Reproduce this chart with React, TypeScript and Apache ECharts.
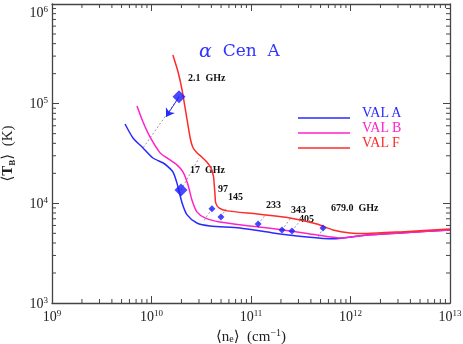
import React, { useEffect, useRef } from "react";
import * as echarts from "echarts";

// Model curves: [n_e (cm^-1), T_B (K)]
const valA: [number, number][] = [
  [5.42e9, 62500], [6.52e9, 45300], [8.22e9, 35970], [1.035e10, 28500], [1.31e10, 25400],
  [1.47e10, 23200], [1.64e10, 20650], [1.8e10, 16030], [2.03e10, 10090], [2.28e10, 7660],
  [2.86e10, 6350], [3.87e10, 5930], [7.74e10, 5660], [1.66e11, 5050], [3.66e11, 4600],
  [6.67e11, 4400], [1.47e12, 4820], [3.16e12, 5050], [1e13, 5410],
];
const valB: [number, number][] = [
  [7.15e9, 94800], [8.22e9, 65500], [9.66e9, 46400], [1.22e10, 32100], [1.43e10, 28600],
  [1.8e10, 24300], [2.07e10, 20650], [2.33e10, 15300], [2.55e10, 10800], [2.86e10, 8200],
  [3.45e10, 7140], [4.87e10, 6500], [9.77e10, 5930], [2.1e11, 5410], [4.6e11, 4820],
  [7.83e11, 4500], [1.47e12, 4820], [3.16e12, 5050], [1e13, 5410],
];
const valF: [number, number][] = [
  [1.64e10, 308000], [1.85e10, 208000], [2.03e10, 137000], [2.28e10, 68600], [2.45e10, 45000],
  [2.6e10, 36500], [2.86e10, 32100], [3.2e10, 29200], [3.6e10, 26000], [3.96e10, 22600],
  [4.2e10, 18500], [4.3e10, 14000], [4.35e10, 12100], [4.42e10, 10100], [4.76e10, 9000],
  [5.74e10, 8400], [1.15e11, 7830], [2.47e11, 7140], [4.6e11, 6210], [6.67e11, 5410],
  [9.9e11, 5050], [1.47e12, 4990], [3.16e12, 5170], [1e13, 5530],
];

// Observations
const bigObs: [number, number][] = [[1.89e10, 1.17e5], [1.98e10, 1.36e4]];
const smallObs: [number, number][] = [
  [4.05e10, 8800], [4.99e10, 7310], [1.18e11, 6210], [2.05e11, 5400], [2.58e11, 5290], [5.29e11, 5670],
];
// Dotted connectors from observation to model curve
const connectorEnds: [number, number][] = [
  [8.22e9, 35970], [3.0e10, 28500], [3.3e10, 6500], [5.61e10, 8790], [1.42e11, 7830],
  [2.52e11, 7140], [3.18e11, 6820], [4.71e11, 4500],
];
const arrowEnd: [number, number] = [1.4e10, 73600];

const obsLabels = ["2.1  GHz", "17  GHz", "97", "145", "233", "343", "405", "679.0  GHz"];

const xDecades = [1e9, 1e10, 1e11, 1e12];
const yDecades = [1e3, 1e4, 1e5];
const minorMult = [2, 3, 4, 5, 6, 7, 8, 9];

const BLUE = "#2a2aff";
const MAGENTA = "#ff22cc";
const RED = "#ff2a2a";
const AXIS = "#444";
const SERIF = "'Liberation Serif', 'DejaVu Serif', serif";

export default function App() {
  const ref = useRef<HTMLDivElement>(null);
  useEffect(() => {
    if (!ref.current) return;
    const chart = echarts.init(ref.current, undefined, { renderer: "svg" });
    const allObs = [...bigObs, ...smallObs];
    const connectors = allObs.map((o, i) => ({ coords: [o, connectorEnds[i]] }));
    const minorX: number[] = [];
    xDecades.forEach((d) => minorMult.forEach((m) => minorX.push(m * d)));
    const minorY: number[] = [];
    yDecades.forEach((d) => minorMult.forEach((m) => minorY.push(m * d)));

    const supRich = {
      b: { fontSize: 14, fontFamily: SERIF, color: "#222", lineHeight: 16 },
      s: { fontSize: 9, fontFamily: SERIF, color: "#222", verticalAlign: "top", lineHeight: 16, padding: [0, 0, 6, 0] },
    };
    const fmt = (v: number) => `{b|10}{s|${Math.round(Math.log10(v))}}`;
    const tickStyle = { lineStyle: { color: AXIS, width: 1 } };

    const labelPos: [number, number][] = [
      [188, 77], [190, 169], [218, 188], [228, 196], [266, 204], [291, 209], [299, 218], [331, 207],
    ];

    chart.setOption({
      animation: false,
      grid: { left: 52, top: 4, right: 13, bottom: 41, containLabel: false, outerBoundsMode: "none" },
      xAxis: [
        {
          type: "log", logBase: 10, min: 1e9, max: 1e13, position: "bottom",
          axisLine: { lineStyle: { color: AXIS, width: 1.3 } },
          axisTick: { inside: true, length: 7, ...tickStyle },
          splitLine: { show: false },
          axisLabel: { formatter: fmt, rich: supRich, margin: 5 },
          name: "{t|⟨n}{sub|e}{t|⟩  (cm}{sup|−1}{t|)}",
          nameLocation: "middle", nameGap: 20,
          nameTextStyle: {
            rich: {
              t: { fontSize: 15, fontFamily: SERIF, color: "#222", lineHeight: 16 },
              sub: { fontSize: 10, fontFamily: SERIF, color: "#222", verticalAlign: "bottom", lineHeight: 16 },
              sup: { fontSize: 10, fontFamily: SERIF, color: "#222", verticalAlign: "top", lineHeight: 16 },
            },
          },
        },
        {
          type: "log", logBase: 10, min: 1e9, max: 1e13, position: "top",
          axisLine: { lineStyle: { color: AXIS, width: 1.3 } },
          axisTick: { inside: true, length: 7, ...tickStyle },
          axisLabel: { show: false },
          splitLine: { show: false },
        },
      ],
      yAxis: [
        {
          type: "log", logBase: 10, min: 1e3, max: 1e6, position: "left",
          axisLine: { lineStyle: { color: AXIS, width: 1.3 } },
          axisTick: { inside: true, length: 7, ...tickStyle },
          splitLine: { show: false },
          axisLabel: { formatter: fmt, rich: supRich, margin: 4, verticalAlignMaxLabel: "top" },
          name: "{t|⟨}{b|T}{sub|B}{t|⟩  (K)}",
          nameLocation: "middle", nameGap: 36,
          nameTextStyle: {
            rich: {
              t: { fontSize: 15, fontFamily: SERIF, color: "#222", lineHeight: 18 },
              b: { fontSize: 15, fontFamily: SERIF, color: "#222", fontWeight: "bold", lineHeight: 18 },
              sub: { fontSize: 9, fontFamily: SERIF, color: "#222", fontWeight: "bold", verticalAlign: "bottom", lineHeight: 18 },
            },
          },
        },
        {
          type: "log", logBase: 10, min: 1e3, max: 1e6, position: "right",
          axisLine: { lineStyle: { color: AXIS, width: 1.3 } },
          axisTick: { inside: true, length: 7, ...tickStyle },
          axisLabel: { show: false },
          splitLine: { show: false },
        },
      ],
      series: [
        {
          type: "custom", silent: true, data: minorX.map((v) => [v, 1e3]),
          renderItem: (params: any, api: any) => {
            const p = api.coord([api.value(0), 1e3]);
            const cs = params.coordSys;
            const st = { stroke: AXIS, lineWidth: 1 };
            return {
              type: "group",
              children: [
                { type: "line", shape: { x1: p[0], y1: cs.y + cs.height, x2: p[0], y2: cs.y + cs.height - 4 }, style: st },
                { type: "line", shape: { x1: p[0], y1: cs.y, x2: p[0], y2: cs.y + 4 }, style: st },
              ],
            };
          },
        },
        {
          type: "custom", silent: true, data: minorY.map((v) => [1e9, v]),
          renderItem: (params: any, api: any) => {
            const p = api.coord([1e9, api.value(1)]);
            const cs = params.coordSys;
            const st = { stroke: AXIS, lineWidth: 1 };
            return {
              type: "group",
              children: [
                { type: "line", shape: { x1: cs.x, y1: p[1], x2: cs.x + 4, y2: p[1] }, style: st },
                { type: "line", shape: { x1: cs.x + cs.width, y1: p[1], x2: cs.x + cs.width - 4, y2: p[1] }, style: st },
              ],
            };
          },
        },
        {
          type: "lines", coordinateSystem: "cartesian2d", silent: true, data: connectors,
          lineStyle: { color: "#999", width: 1, type: [2, 2], opacity: 1 },
        },
        {
          type: "lines", coordinateSystem: "cartesian2d", silent: true,
          data: [{ coords: [bigObs[0], arrowEnd] }],
          symbol: ["none", "arrow"], symbolSize: 8,
          lineStyle: { color: BLUE, width: 1, opacity: 1 },
        },
        { name: "VAL A", type: "line", data: valA, smooth: 0.25, showSymbol: false, lineStyle: { color: BLUE, width: 1.5 } },
        { name: "VAL B", type: "line", data: valB, smooth: 0.25, showSymbol: false, lineStyle: { color: MAGENTA, width: 1.5 } },
        { name: "VAL F", type: "line", data: valF, smooth: 0.2, showSymbol: false, lineStyle: { color: RED, width: 1.5 } },
        { type: "scatter", data: bigObs, symbol: "diamond", symbolSize: 13, itemStyle: { color: "#1a1aff" }, z: 5 },
        { type: "scatter", data: smallObs, symbol: "diamond", symbolSize: 7, itemStyle: { color: "#1a1aff" }, z: 5 },
      ],
      graphic: [
        {
          type: "text", left: 199, top: 40,
          style: {
            text: "{a|α}{c|  Cen  A}",
            rich: {
              a: { fontSize: 19, fontFamily: "'DejaVu Serif', serif", fontStyle: "italic", fill: "#3333ff" },
              c: { fontSize: 17, fontFamily: "'DejaVu Serif', serif", fill: "#3333ff" },
            },
          },
        },
        ...labelPos.map((p, i) => ({
          type: "text", x: p[0], y: p[1],
          style: {
            text: obsLabels[i], fontSize: 10, fontWeight: "bold", fontFamily: SERIF,
            fill: "#111", verticalAlign: "middle",
          },
        })),
        ...[
          ["VAL A", BLUE, 118],
          ["VAL B", MAGENTA, 133],
          ["VAL F", RED, 148],
        ].flatMap(([t, c, y]) => [
          { type: "line", shape: { x1: 298, y1: y as number, x2: 350, y2: y as number }, style: { stroke: c as string, lineWidth: 1.5 } },
          {
            type: "text", x: 362, y: (y as number) + 1,
            style: { text: t as string, fontSize: 14, fontFamily: SERIF, fill: c as string, verticalAlign: "bottom" },
          },
        ]),
      ],
    });
    return () => chart.dispose();
  }, []);
  return <div ref={ref} style={{ position: "fixed", left: 0, top: 0, width: 463, height: 344 }} />;
}
